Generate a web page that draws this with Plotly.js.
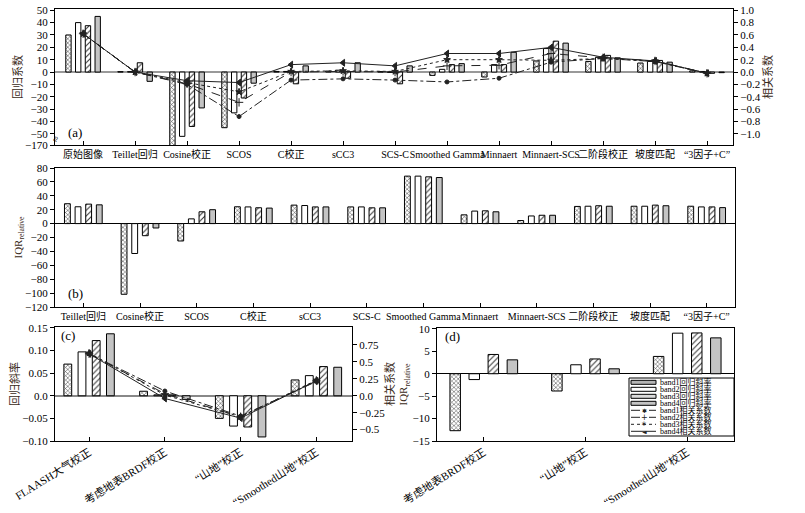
<!DOCTYPE html>
<html>
<head>
<meta charset="utf-8">
<script src="https://cdn.plot.ly/plotly-3.0.1.min.js"></script>
<style>
body { margin: 0; background: #fff; }
#chart { width: 805px; height: 513px; }
</style>
</head>
<body>
<div id="chart"></div>
<script>
// 类别
const catsA = ['原始图像', 'Teillet回归', 'Cosine校正', 'SCOS', 'C校正', 'sCC3', 'SCS-C',
    'Smoothed Gamma', 'Minnaert', 'Minnaert-SCS', '二阶段校正', '坡度匹配', '“3因子+C”'];
const catsB = catsA.slice(1);
const catsC = ['FLAASH大气校正', '考虑地表BRDF校正', '“山地”校正', '“Smoothed山地”校正'];
const catsD = catsC.slice(1);

// (a) 回归系数 (band1..band4)
const slopeA1 = [30, 0.3, -170, -45, 0.5, 0.8, 0.3, -2.7, -4, 9, 8.6, 7.3, 1];
const slopeA2 = [40, 0.3, -52, -33, 0.5, 1.5, -0.3, 2.2, 6, 19, 12, 8.6, 0.5];
const slopeA3 = [37.5, 7.5, -44, -21, -9.5, -5, -9.5, 6, 6, 25, 13.5, 9.4, -1];
const slopeA4 = [45, -7.5, -29, -9, 5, 7.5, 5, 6.8, 16, 23.4, 11.5, 8, -0.5];
// (a) 相关系数
const corrA1 = [0.62, 0, -0.2, -0.72, -0.13, -0.11, -0.13, -0.16, -0.1, 0.16, 0.22, 0.17, -0.02];
const corrA2 = [0.62, 0, -0.19, -0.49, 0, 0.01, 0, 0.1, 0.11, 0.3, 0.23, 0.18, -0.02];
const corrA3 = [0.62, 0, -0.17, -0.32, 0.01, 0.02, 0.01, 0.2, 0.2, 0.19, 0.22, 0.18, -0.02];
const corrA4 = [0.62, 0, -0.14, -0.17, 0.12, 0.15, 0.1, 0.3, 0.3, 0.4, 0.24, 0.18, -0.02];

// (b) IQR relative
const iqrB1 = [28.6, -101.7, -25, 24.2, 26.6, 24, 68.3, 12.6, 4.4, 24.7, 25, 25];
const iqrB2 = [24.2, -43, 6.8, 24, 26, 24, 68.3, 18, 11, 25, 25, 24];
const iqrB3 = [28, -17.4, 17, 22.8, 24, 22.7, 67.3, 18.4, 12, 25.7, 26.6, 24];
const iqrB4 = [27, -6.3, 20, 22.3, 24, 22.7, 66.3, 17, 12, 25, 25.7, 23];

// (c) 回归斜率 / 相关系数
const slopeC1 = [0.07, 0.01, -0.05, 0.035];
const slopeC2 = [0.097, 0.002, -0.067, 0.0445];
const slopeC3 = [0.122, 0.002, -0.069, 0.0645];
const slopeC4 = [0.137, -0.008, -0.091, 0.063];
const corrC1 = [0.62, 0.07, -0.30, 0.21];
const corrC2 = [0.62, 0.03, -0.31, 0.22];
const corrC3 = [0.63, 0.01, -0.31, 0.23];
const corrC4 = [0.62, -0.04, -0.33, 0.22];

// (d) IQR relative
const iqrD1 = [-12.7, -3.85, 3.86];
const iqrD2 = [-1.3, 2.0, 9.05];
const iqrD3 = [4.3, 3.3, 9.1];
const iqrD4 = [3.1, 1.1, 8.0];

const FONT = 'Liberation Serif, Noto Sans CJK SC, serif';
const px = v => v / 805;
const py = v => 1 - v / 513;

// 柱子样式: band1 交叉线, band2 白, band3 斜线, band4 灰
const barStyles = [
    { color: '#fff', line: { color: '#000', width: 1 }, pattern: { shape: 'x', fgcolor: '#333', bgcolor: '#fff', size: 3, solidity: 0.3 } },
    { color: '#fff', line: { color: '#000', width: 1 } },
    { color: '#fff', line: { color: '#000', width: 1 }, pattern: { shape: '/', fgcolor: '#333', bgcolor: '#fff', size: 4, solidity: 0.25 } },
    { color: '#c4c4c4', line: { color: '#000', width: 1 } }
];
const lineStyles = [
    { dash: 'dashdot', symbol: 'circle', size: 4 },
    { dash: 'dash', symbol: 'cross-thin', size: 6 },
    { dash: 'dot', symbol: 'star', size: 5 },
    { dash: 'solid', symbol: 'triangle-left', size: 6 }
];

function bars(cats, series, xa, ya) {
    return series.map((vals, i) => ({
        type: 'bar', x: cats, y: vals, xaxis: xa, yaxis: ya,
        name: 'band' + (i + 1) + '回归斜率', marker: barStyles[i]
    }));
}
function lines(cats, series, xa, ya) {
    return series.map((vals, i) => ({
        type: 'scatter', mode: 'lines+markers', x: cats, y: vals, xaxis: xa, yaxis: ya,
        name: 'band' + (i + 1) + '相关系数',
        line: { color: '#222', width: 1, dash: lineStyles[i].dash },
        marker: { color: '#222', symbol: lineStyles[i].symbol, size: lineStyles[i].size, line: { color: '#222', width: 1 } }
    }));
}

const traces = [
    ...bars(catsA, [slopeA1, slopeA2, slopeA3, slopeA4], 'x', 'y'),
    ...lines(catsA, [corrA1, corrA2, corrA3, corrA4], 'x', 'y2'),
    ...bars(catsB, [iqrB1, iqrB2, iqrB3, iqrB4], 'x2', 'y3'),
    ...bars(catsC, [slopeC1, slopeC2, slopeC3, slopeC4], 'x3', 'y4'),
    ...lines(catsC, [corrC1, corrC2, corrC3, corrC4], 'x3', 'y5'),
    ...bars(catsD, [iqrD1, iqrD2, iqrD3, iqrD4], 'x4', 'y6')
];

const axBase = {
    showline: true, linecolor: '#000', linewidth: 1, showgrid: false,
    tickcolor: '#000', ticklen: 4, tickfont: { size: 11 }
};
const xBase = Object.assign({}, axBase, { type: 'category', ticks: 'inside', mirror: true, zeroline: false });
const titleFont = { size: 11, color: '#3a2a20' };

// (a) 左轴 -170 断轴
const tickA = [-59, -50, -40, -30, -20, -10, 0, 10, 20, 30, 40, 50];
const tickAText = ['−170', '−50', '−40', '−30', '−20', '−10', '0', '10', '20', '30', '40', '50'];

const layout = {
    width: 805, height: 513,
    margin: { l: 0, r: 0, t: 0, b: 0 },
    paper_bgcolor: '#fff', plot_bgcolor: '#fff',
    font: { family: FONT, size: 11, color: '#000' },
    showlegend: false,
    barmode: 'group', bargap: 0.25, bargroupgap: 0.45,
    xaxis: Object.assign({}, xBase, { domain: [px(55), px(733)], anchor: 'y', range: [-0.54, 12.5], tickangle: 0, tickfont: { size: 10 } }),
    yaxis: Object.assign({}, axBase, {
        domain: [py(145), py(9)], anchor: 'x', range: [-59, 51], ticks: 'outside',
        tickvals: tickA, ticktext: tickAText,
        zeroline: true, zerolinecolor: '#999', zerolinewidth: 2,
        title: { text: '回归系数', font: titleFont, standoff: 0 }
    }),
    yaxis2: Object.assign({}, axBase, {
        overlaying: 'y', side: 'right', anchor: 'x', range: [-1.18, 1.02], ticks: 'outside',
        tickvals: [-1, -0.8, -0.6, -0.4, -0.2, 0, 0.2, 0.4, 0.6, 0.8, 1], tickformat: '.1f',
        zeroline: false, title: { text: '相关系数', font: titleFont, standoff: 4 }
    }),
    xaxis2: Object.assign({}, xBase, { domain: [px(55), px(735)], anchor: 'y3', range: [-0.5, 11.5], tickangle: 0, tickfont: { size: 10 } }),
    yaxis3: Object.assign({}, axBase, {
        domain: [py(307), py(168)], anchor: 'x2', range: [-120, 80], dtick: 20, ticks: 'outside', mirror: true,
        zeroline: true, zerolinecolor: '#000', zerolinewidth: 1,
        title: { text: 'IQR<sub>relative</sub>', font: titleFont, standoff: 0 }
    }),
    xaxis3: Object.assign({}, xBase, { domain: [px(55), px(352)], anchor: 'y4', range: [-0.45, 3.47], tickangle: -32 }),
    yaxis4: Object.assign({}, axBase, {
        domain: [py(441), py(327)], anchor: 'x3', range: [-0.10, 0.152], ticks: 'outside',
        tickvals: [-0.1, -0.05, 0, 0.05, 0.1, 0.15], ticktext: ['−0.10', '−0.05', '0.0', '0.05', '0.10', '0.15'],
        zeroline: true, zerolinecolor: '#888', zerolinewidth: 1.5,
        title: { text: '回归斜率', font: titleFont, standoff: 0 }
    }),
    yaxis5: Object.assign({}, axBase, {
        overlaying: 'y4', side: 'right', anchor: 'x3', range: [-0.668, 1.015], ticks: 'outside',
        tickvals: [-0.5, -0.25, 0, 0.25, 0.5, 0.75], ticktext: ['−0.5', '−0.25', '0.0', '0.25', '0.5', '0.75'],
        zeroline: false, title: { text: '相关系数', font: titleFont, standoff: 2 }
    }),
    xaxis4: Object.assign({}, xBase, { domain: [px(437), px(734)], anchor: 'y6', range: [-0.46, 2.46], tickangle: -32 }),
    yaxis6: Object.assign({}, axBase, {
        domain: [py(441), py(328)], anchor: 'x4', range: [-15, 10.2], ticks: 'outside', mirror: true,
        tickvals: [-15, -10, -5, 0, 5, 10],
        zeroline: true, zerolinecolor: '#000', zerolinewidth: 1,
        title: { text: 'IQR<sub>relative</sub>', font: titleFont, standoff: 2 }
    }),
    shapes: [],
    annotations: []
};

// 子图标号
[['(a)', 75, 132], ['(b)', 75, 293], ['(c)', 68, 335], ['(d)', 452, 336]].forEach(([t, x, y]) => {
    layout.annotations.push({ text: t, xref: 'paper', yref: 'paper', x: px(x), y: py(y),
        xanchor: 'center', yanchor: 'middle', showarrow: false, font: { size: 13 } });
});
// 断轴符号
layout.annotations.push({ text: '≈', xref: 'paper', yref: 'paper', x: px(56), y: py(139),
    xanchor: 'center', yanchor: 'middle', showarrow: false, textangle: -70, font: { size: 10 } });

// 图例 (d) 内部, 自绘
const legX = 629, legSw0 = 631, legSw1 = 656, legTx = 659;
layout.shapes.push({ type: 'rect', xref: 'paper', yref: 'paper',
    x0: px(legX), x1: px(734), y0: py(378), y1: py(436),
    line: { color: '#000', width: 1 }, fillcolor: '#fff' });
const swatchFill = ['#b4b4b4', '#fff', '#dcdcdc', '#c4c4c4'];
const markChar = ['✱', '+', '∗', '◄'];
const markSize = [6, 8, 7, 6];
const dashMap = ['dashdot', 'dash', 'dot', 'solid'];
for (let i = 0; i < 8; i++) {
    const y = 382.3 + 7 * i;
    if (i < 4) {
        layout.shapes.push({ type: 'rect', xref: 'paper', yref: 'paper',
            x0: px(legSw0), x1: px(legSw1), y0: py(y + 2), y1: py(y - 2),
            line: { color: '#000', width: 1 }, fillcolor: swatchFill[i] });
    } else {
        const k = i - 4;
        layout.shapes.push({ type: 'line', xref: 'paper', yref: 'paper',
            x0: px(legSw0), x1: px(legSw1), y0: py(y), y1: py(y),
            line: { color: '#222', width: 1, dash: dashMap[k] } });
        layout.annotations.push({ text: markChar[k], xref: 'paper', yref: 'paper',
            x: px(644), y: py(y), xanchor: 'center', yanchor: 'middle', showarrow: false,
            font: { family: 'DejaVu Sans', size: markSize[k], color: '#222' } });
    }
    const label = 'band' + ((i % 4) + 1) + (i < 4 ? '回归斜率' : '相关系数');
    layout.annotations.push({ text: label, xref: 'paper', yref: 'paper',
        x: px(legTx), y: py(y), xanchor: 'left', yanchor: 'middle', showarrow: false,
        borderpad: 0, font: { family: 'Liberation Serif, Noto Sans CJK SC', size: 8, color: '#000' } });
}

Plotly.newPlot('chart', traces, layout, { staticPlot: true, displayModeBar: false });
</script>
</body>
</html>
